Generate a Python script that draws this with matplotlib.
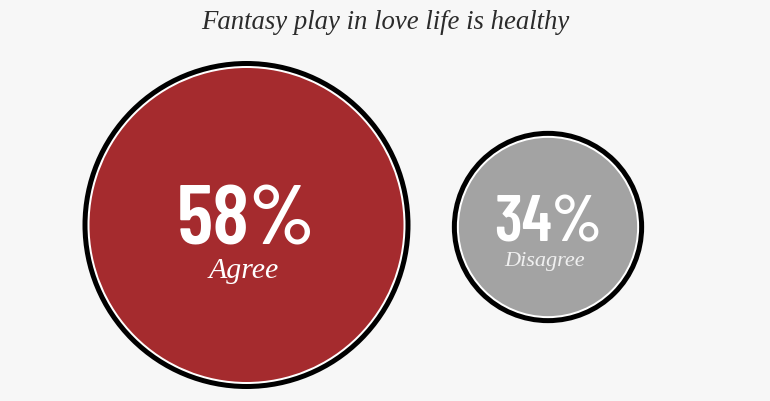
import matplotlib
matplotlib.use("Agg")
import matplotlib.pyplot as plt
from matplotlib.patches import Circle

# ---- data ----
title = "Fantasy play in love life is healthy"
categories = ["Agree", "Disagree"]
values = [58, 34]
value_labels = ["58%", "34%"]

# ---- layout / style ----
W, H = 770, 402
BG = "#f7f7f7"
fills = ["#a52b2e", "#a3a3a3"]
centers = [(246.5, 226), (548, 228)]
px_per_pct = 164 / 58.0
num_sizes = [61, 47]
lab_sizes = [21.5, 16]
num_base = [245, 242]
lab_base = [278, 266]
lab_colors = ["#ffffff", "#f0f0f0"]

fig = plt.figure(figsize=(W / 100, H / 100), dpi=100, facecolor=BG)
ax = fig.add_axes([0, 0, 1, 1])
ax.set_xlim(0, W)
ax.set_ylim(H, 0)
ax.set_facecolor(BG)
ax.axis("off")

for i, (cat, v, lab) in enumerate(zip(categories, values, value_labels)):
    cx, cy = centers[i]
    R = v * px_per_pct
    ax.add_patch(Circle((cx, cy), R, fc="#000000", ec="none"))
    ax.add_patch(Circle((cx, cy), R - 5, fc="#ffffff", ec="none"))
    ax.add_patch(Circle((cx, cy), R - 7, fc=fills[i], ec="none"))
    ax.text(cx, num_base[i], lab, ha="center", va="baseline",
            fontsize=num_sizes[i], fontweight=600, color="white",
            family=["Barlow Condensed", "DejaVu Sans"])
    ax.text(cx - 3, lab_base[i], cat, ha="center", va="baseline",
            fontsize=lab_sizes[i], style="italic", color=lab_colors[i],
            family=["Liberation Serif", "DejaVu Serif"])

ax.text(385, 29, title, ha="center", va="baseline", fontsize=19.3,
        style="italic", color="#2b2b2b",
        family=["Liberation Serif", "DejaVu Serif"])

fig.savefig("out.png", dpi=100, facecolor=BG)
